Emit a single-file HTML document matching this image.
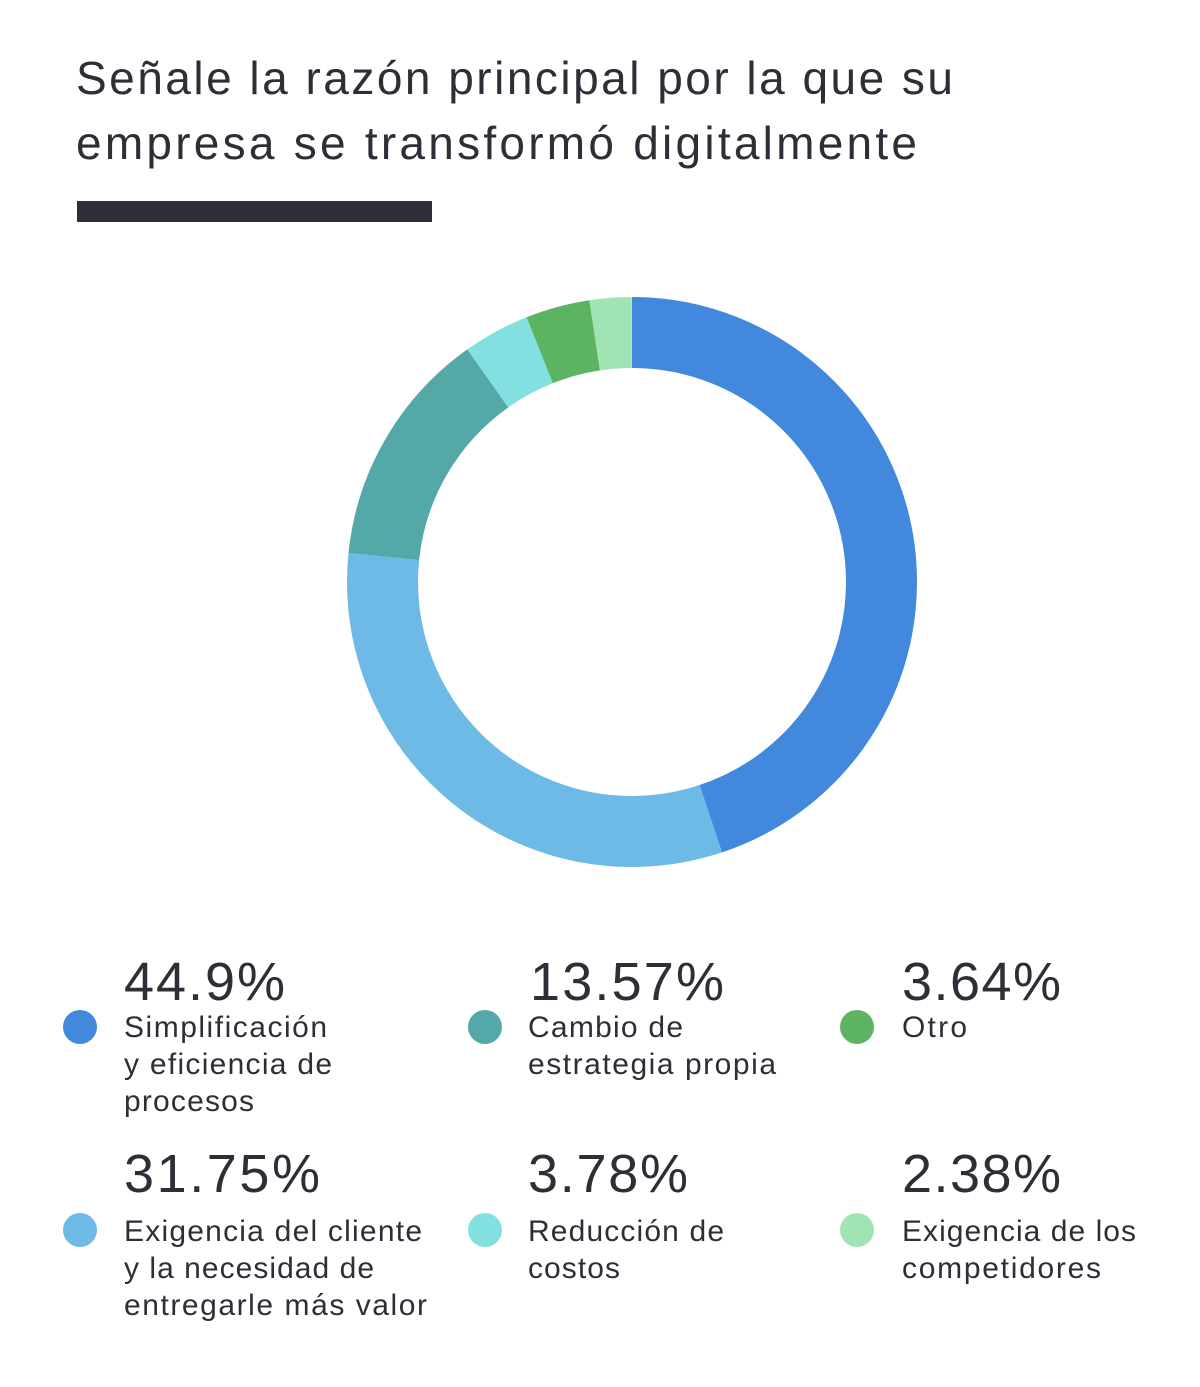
<!DOCTYPE html>
<html><head><meta charset="utf-8"><style>
html,body{margin:0;padding:0;background:#fff;}
svg{display:block;font-family:"Liberation Sans",sans-serif;}
</style></head><body>
<svg width="1200" height="1387" viewBox="0 0 1200 1387">
<rect width="1200" height="1387" fill="#fff"/>
<g fill="#2e2e38" font-size="46">
<text x="76" y="94" textLength="877">Señale la razón principal por la que su</text>
<text x="76" y="159" textLength="841">empresa se transformó digitalmente</text>
</g>
<rect x="77" y="201" width="355" height="21" fill="#2e2e38"/>
<g transform="translate(632,582) rotate(-90)" fill="none" stroke-width="71">
<circle r="249.5" stroke="#4289dd" pathLength="100" stroke-dasharray="44.9 100" stroke-dashoffset="0"/>
<circle r="249.5" stroke="#6dbae6" pathLength="100" stroke-dasharray="31.75 100" stroke-dashoffset="-44.9"/>
<circle r="249.5" stroke="#55a8a8" pathLength="100" stroke-dasharray="13.57 100" stroke-dashoffset="-76.65"/>
<circle r="249.5" stroke="#82e0e0" pathLength="100" stroke-dasharray="3.78 100" stroke-dashoffset="-90.22"/>
<circle r="249.5" stroke="#5cb462" pathLength="100" stroke-dasharray="3.64 100" stroke-dashoffset="-94.0"/>
<circle r="249.5" stroke="#a0e4b4" pathLength="100" stroke-dasharray="2.38 100" stroke-dashoffset="-97.64"/>
</g>
<g fill="#2e2e38">
<g font-size="54">
<text x="124" y="1000" textLength="161">44.9%</text>
<text x="530" y="1000" textLength="194">13.57%</text>
<text x="902" y="1000" textLength="159">3.64%</text>
<text x="124" y="1192" textLength="196">31.75%</text>
<text x="528" y="1192" textLength="160">3.78%</text>
<text x="902" y="1192" textLength="159">2.38%</text>
</g>
<g font-size="30">
<text x="124" y="1037" textLength="203">Simplificación</text>
<text x="124" y="1074" textLength="208">y eficiencia de</text>
<text x="124" y="1111" textLength="130">procesos</text>
<text x="528" y="1037" textLength="155">Cambio de</text>
<text x="528" y="1074" textLength="248">estrategia propia</text>
<text x="902" y="1037" textLength="65">Otro</text>
<text x="124" y="1241" textLength="298">Exigencia del cliente</text>
<text x="124" y="1278" textLength="250">y la necesidad de</text>
<text x="124" y="1315" textLength="303">entregarle más valor</text>
<text x="528" y="1241" textLength="196">Reducción de</text>
<text x="528" y="1278" textLength="92">costos</text>
<text x="902" y="1241" textLength="234">Exigencia de los</text>
<text x="902" y="1278" textLength="199">competidores</text>
</g>
</g>
<circle cx="80" cy="1027" r="17" fill="#4289dd"/>
<circle cx="485" cy="1027" r="17" fill="#55a8a8"/>
<circle cx="857" cy="1027" r="17" fill="#5cb462"/>
<circle cx="80" cy="1230" r="17" fill="#6dbae6"/>
<circle cx="485" cy="1230" r="17" fill="#82e0e0"/>
<circle cx="857" cy="1230" r="17" fill="#a0e4b4"/>
</svg>
</body></html>
